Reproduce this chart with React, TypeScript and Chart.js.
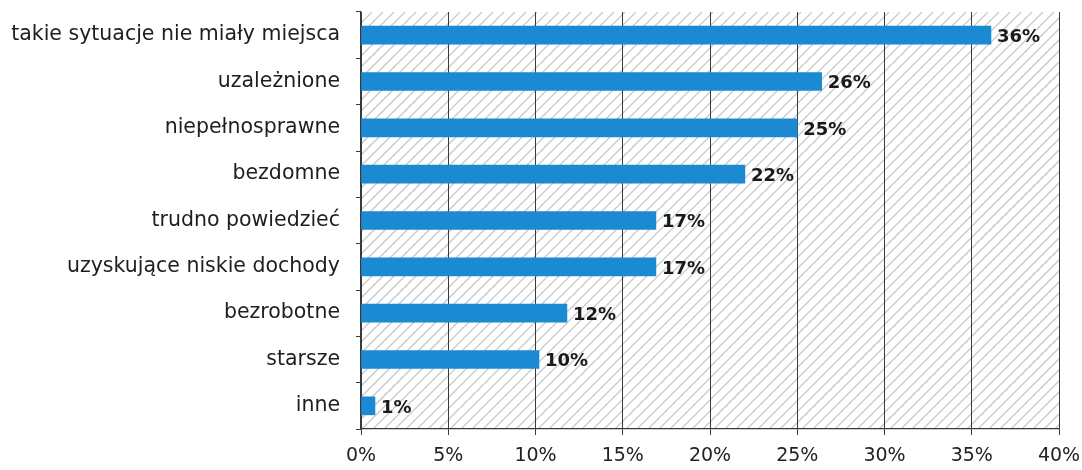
import React, { useEffect, useRef } from "react";
import { Chart, registerables } from "chart.js";

Chart.register(...registerables);

const categories = [
  "takie sytuacje nie miały miejsca",
  "uzależnione",
  "niepełnosprawne",
  "bezdomne",
  "trudno powiedzieć",
  "uzyskujące niskie dochody",
  "bezrobotne",
  "starsze",
  "inne",
];
const values = [36.1, 26.4, 25.0, 22.0, 16.9, 16.9, 11.8, 10.2, 0.8];
const valueLabels = ["36%", "26%", "25%", "22%", "17%", "17%", "12%", "10%", "1%"];
const xTicks = [0, 5, 10, 15, 20, 25, 30, 35, 40];

const FONT = "'DejaVu Sans', Verdana, sans-serif";

const hatchPlugin = {
  id: "hatch",
  beforeDraw(chart: any) {
    const { ctx, chartArea } = chart;
    const { left, top, right, bottom } = chartArea;
    ctx.save();
    ctx.beginPath();
    ctx.rect(left, top, right - left, bottom - top);
    ctx.clip();
    ctx.strokeStyle = "#c6c9cd";
    ctx.lineWidth = 1.3;
    const h = bottom - top;
    const step = 11;
    for (let x = left - h; x < right + step; x += step) {
      ctx.beginPath();
      ctx.moveTo(x, bottom);
      ctx.lineTo(x + h, top);
      ctx.stroke();
    }
    ctx.restore();
  },
};

const valueLabelPlugin = {
  id: "valueLabels",
  afterDatasetsDraw(chart: any) {
    const { ctx } = chart;
    const meta = chart.getDatasetMeta(0);
    ctx.save();
    ctx.font = `bold 18px ${FONT}`;
    ctx.fillStyle = "#1a1a1a";
    ctx.textAlign = "left";
    ctx.textBaseline = "middle";
    meta.data.forEach((bar: any, i: number) => {
      ctx.fillText(valueLabels[i], bar.x + 6, bar.y + 2);
    });
    ctx.restore();
  },
};

export default function App() {
  const ref = useRef<HTMLCanvasElement>(null);

  useEffect(() => {
    document.body.style.margin = "0";
    const canvas = ref.current!;
    const chart = new Chart(canvas, {
      type: "bar",
      data: {
        labels: categories,
        datasets: [
          {
            data: values,
            backgroundColor: "#1b8ad3",
            borderWidth: 0,
            barThickness: 18,
          },
        ],
      },
      options: {
        indexAxis: "y",
        responsive: false,
        animation: false,
        layout: { padding: { top: 12, right: 23, left: 0, bottom: 0 } },
        plugins: {
          legend: { display: false },
          tooltip: { enabled: false },
        },
        scales: {
          x: {
            type: "linear",
            min: 0,
            max: 40,
            afterBuildTicks(scale: any) {
              scale.ticks = xTicks.map((v) => ({ value: v }));
            },
            afterFit(scale: any) {
              scale.height = 41;
              scale.paddingLeft = 0;
              scale.paddingRight = 0;
            },
            grid: {
              color: "#3a3a3a",
              lineWidth: 1,
              drawTicks: true,
              tickLength: 6,
              tickColor: "#3a3a3a",
            },
            border: { display: true, color: "#3a3a3a", width: 1.2 },
            ticks: {
              padding: 10,
              color: "#222",
              font: { family: FONT, size: 19 },
              callback: (v: any) => `${v}%`,
            },
          },
          y: {
            afterFit(scale: any) {
              scale.width = 361;
              scale.paddingTop = 0;
              scale.paddingBottom = 0;
            },
            grid: {
              offset: true,
              drawOnChartArea: false,
              drawTicks: true,
              tickLength: 5,
              tickColor: "#3a3a3a",
            },
            border: { display: true, color: "#3a3a3a", width: 1.2 },
            ticks: {
              padding: 16,
              color: "#1e1e1e",
              font: { family: FONT, size: 20.5 },
            },
          },
        },
      },
      plugins: [hatchPlugin, valueLabelPlugin],
    });
    return () => chart.destroy();
  }, []);

  return (
    <div style={{ width: 1082, height: 470, background: "#fff" }}>
      <canvas ref={ref} width={1082} height={470} />
    </div>
  );
}
